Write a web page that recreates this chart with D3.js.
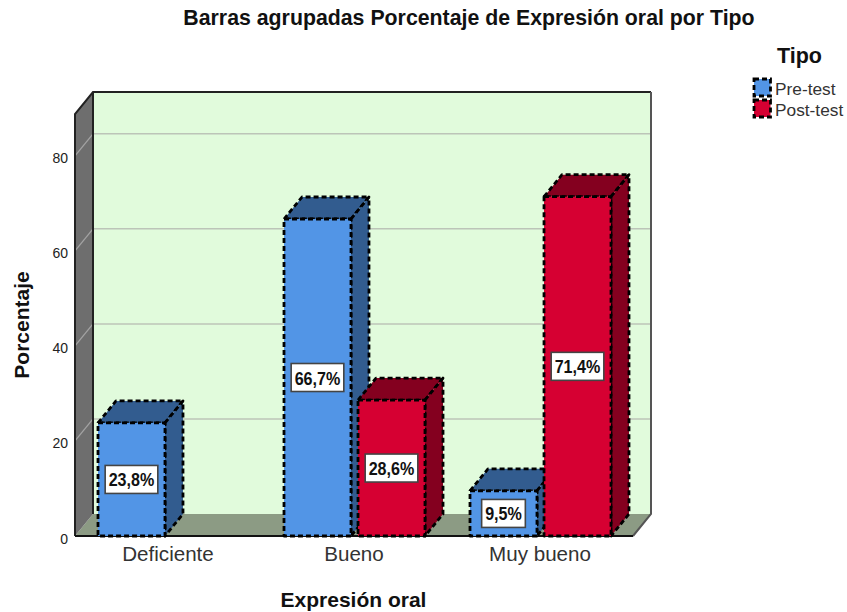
<!DOCTYPE html>
<html>
<head>
<meta charset="utf-8">
<script src="https://cdnjs.cloudflare.com/ajax/libs/d3/7.8.5/d3.min.js"></script>
<style>
  html, body { margin: 0; padding: 0; background: #fff; }
  text { font-family: "Liberation Sans", Arial, sans-serif; }
</style>
</head>
<body>
<div id="chart"></div>
<script>
const categories = ["Deficiente", "Bueno", "Muy bueno"]
const seriesNames = ["Pre-test", "Post-test"]
const preTest = [23.8, 66.7, 9.5]
const postTest = [null, 28.6, 71.4]
const yTicks = [0, 20, 40, 60, 80]

const colors = {
  "Pre-test": {front: "#5295e6", dark: "#325c8f"},
  "Post-test": {front: "#d60032", dark: "#84001f"}
}

const W = 847, H = 612
const depth = {x: 18, y: -22}  // offset of the back wall

const svg = d3.select("#chart").append("svg")
  .attr("width", W).attr("height", H)
  .style("display", "block")

// front plane scales
const x = d3.scaleBand().domain(categories).range([75, 633])
const sub = d3.scaleBand().domain(seriesNames).range([-70, 71]).paddingInner(0.095)
const y = d3.scaleLinear().domain([0, 88.8]).range([536, 114])

const x0 = x.range()[0], x1 = x.range()[1]
const y0 = y(0), yTop = y(y.domain()[1])
const poly = pts => pts.map(p => p.join(",")).join(" ")
const back = (px, py) => [px + depth.x, py + depth.y]

// walls
svg.append("polygon")
  .attr("points", poly([back(x0, yTop), back(x1, yTop), back(x1, y0), back(x0, y0)]))
  .attr("fill", "#e1fbdc")
svg.append("polygon")
  .attr("points", poly([[x0, y0], back(x0, y0), back(x1, y0), [x1, y0]]))
  .attr("fill", "#8c9b84")
svg.append("polygon")
  .attr("points", poly([[x0, yTop], back(x0, yTop), back(x0, y0), [x0, y0]]))
  .attr("fill", "#6e6e6e")

// gridlines on side wall and back wall
yTicks.filter(t => t > 0).forEach(t => {
  svg.append("line")
    .attr("x1", x0).attr("y1", y(t))
    .attr("x2", back(x0, y(t))[0]).attr("y2", back(x0, y(t))[1])
    .attr("stroke", "#a3a3a3").attr("stroke-width", 1.3)
  svg.append("line")
    .attr("x1", back(x0, y(t))[0]).attr("y1", back(x0, y(t))[1])
    .attr("x2", back(x1, y(t))[0]).attr("y2", back(x1, y(t))[1])
    .attr("stroke", "#bcc4b8").attr("stroke-width", 1.5)
})

// wall outlines
svg.append("polyline")
  .attr("points", poly([[x0, y0], [x0, yTop], back(x0, yTop), back(x1, yTop)]))
  .attr("fill", "none").attr("stroke", "#222").attr("stroke-width", 2)
svg.append("line")
  .attr("x1", back(x0, yTop)[0]).attr("y1", back(x0, yTop)[1])
  .attr("x2", back(x0, y0)[0]).attr("y2", back(x0, y0)[1])
  .attr("stroke", "#222").attr("stroke-width", 2)
svg.append("polyline")
  .attr("points", poly([back(x1, yTop), back(x1, y0), [x1, y0]]))
  .attr("fill", "none").attr("stroke", "#555").attr("stroke-width", 2)
svg.append("line")
  .attr("x1", x0).attr("y1", y0).attr("x2", x1).attr("y2", y0)
  .attr("stroke", "#111").attr("stroke-width", 2)

// axes
const yAxis = svg.append("g").attr("transform", `translate(${x0},0)`)
  .call(d3.axisLeft(y).tickValues(yTicks).tickSize(0).tickPadding(7))
yAxis.select(".domain").remove()
yAxis.selectAll("text").attr("font-size", 14).attr("fill", "#222").attr("dy", "0.5em")
  .style("font-family", '"Liberation Sans", Arial, sans-serif')

const xAxis = svg.append("g").attr("transform", `translate(0,${y0})`)
  .call(d3.axisBottom(x).tickSize(0).tickPadding(10))
xAxis.select(".domain").remove()
xAxis.selectAll("text").attr("font-size", 20.6).attr("fill", "#333")
  .style("font-family", '"Liberation Sans", Arial, sans-serif')

// bars
const rows = []
categories.forEach((c, i) => {
  rows.push({cat: c, name: "Pre-test", value: preTest[i]})
  rows.push({cat: c, name: "Post-test", value: postTest[i]})
})
const bars = rows.filter(d => d.value != null)
const mid = c => x(c) + x.bandwidth() / 2

const barG = svg.selectAll("g.bar").data(bars).join("g").attr("class", "bar")
  .attr("stroke", "#000").attr("stroke-width", 2.8).attr("stroke-dasharray", "5 3")
  .attr("stroke-linejoin", "round")

barG.each(function (d) {
  const g = d3.select(this)
  const l = mid(d.cat) + sub(d.name), r = l + sub.bandwidth()
  const t = y(d.value)
  g.append("polygon").attr("fill", colors[d.name].dark)
    .attr("points", poly([[l, t], back(l, t), back(r, t), [r, t]]))
  g.append("polygon").attr("fill", colors[d.name].dark)
    .attr("points", poly([[r, t], back(r, t), back(r, y0), [r, y0]]))
  g.append("rect").attr("fill", colors[d.name].front)
    .attr("x", l).attr("y", t).attr("width", r - l).attr("height", y0 - t)
})

// value labels, the source font is tall and narrow so squeeze it
svg.selectAll("g.lab").data(bars).join("g").attr("class", "lab").each(function (d) {
  const g = d3.select(this)
  const cx = mid(d.cat) + sub(d.name) + sub.bandwidth() / 2
  const cy = (y(d.value) + y0) / 2
  const txt = g.append("text")
    .attr("x", cx).attr("y", cy + 7)
    .attr("text-anchor", "middle").attr("font-size", 18.5).attr("font-weight", "bold")
    .attr("fill", "#111")
    .text(d.value.toFixed(1).replace(".", ",") + "%")
  const w = txt.node().getComputedTextLength() * 0.87
  txt.attr("textLength", w).attr("lengthAdjust", "spacingAndGlyphs")
  g.insert("rect", "text")
    .attr("x", cx - w / 2 - 3.5).attr("y", cy - 14).attr("width", w + 7).attr("height", 28)
    .attr("fill", "#fff").attr("stroke", "#444").attr("stroke-width", 1.6)
})

// titles
svg.append("text").attr("x", 469).attr("y", 25).attr("text-anchor", "middle")
  .attr("font-size", 21.3).attr("font-weight", "bold").attr("fill", "#111")
  .text("Barras agrupadas Porcentaje de Expresión oral por Tipo")
svg.append("text").attr("x", 353.5).attr("y", 607).attr("text-anchor", "middle")
  .attr("font-size", 21).attr("font-weight", "bold").attr("fill", "#111")
  .text("Expresión oral")
svg.append("text").attr("transform", "translate(29,325) rotate(-90)").attr("text-anchor", "middle")
  .attr("font-size", 21).attr("font-weight", "bold").attr("fill", "#111")
  .text("Porcentaje")

// legend
svg.append("text").attr("x", 799.5).attr("y", 63).attr("text-anchor", "middle")
  .attr("font-size", 21.5).attr("font-weight", "bold").attr("fill", "#111")
  .text("Tipo")
const legend = d3.scaleBand().domain(seriesNames).range([79, 121])
seriesNames.forEach(n => {
  svg.append("rect")
    .attr("x", 754).attr("y", legend(n)).attr("width", 16.5).attr("height", 17)
    .attr("fill", colors[n].front).attr("stroke", "#000").attr("stroke-width", 2.8)
    .attr("stroke-dasharray", "5 3")
  svg.append("text").attr("x", 775).attr("y", legend(n) + 15.5)
    .attr("font-size", 17.3).attr("fill", "#333").text(n)
})
</script>
</body>
</html>
